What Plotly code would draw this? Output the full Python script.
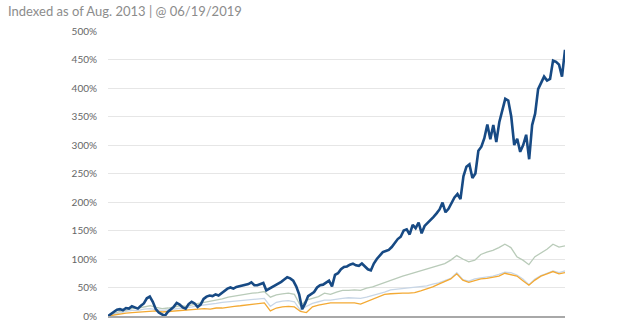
import pandas as pd
import plotly.graph_objects as go

TITLE = "Indexed as of Aug. 2013 | @ 06/19/2019"
START, END = "2013-08-01", "2019-06-19"

# Main series (dark blue), bi-weekly readings, % change since Aug 2013
blue_vals = [
    0, 4, 8, 11, 12, 10, 14, 13, 17, 15,
    13, 18, 22, 31, 34, 25, 12, 6, 3, 0,
    7, 11, 16, 23, 20, 15, 13, 21, 25, 22,
    16, 20, 30, 34, 36, 35, 38, 36, 40, 45,
    48, 50, 48, 51, 52, 53, 55, 56, 59, 54,
    54, 56, 58, 45, 48, 51, 54, 56, 60, 64,
    68, 66, 62, 52, 38, 12, 22, 35, 38, 42,
    50, 54, 55, 58, 62, 52, 72, 75, 82, 86,
    87, 90, 92, 89, 88, 92, 87, 82, 80, 92,
    100, 106, 112, 114, 116, 121, 128, 135, 139, 150,
    152, 143, 160, 154, 164, 145, 158, 163, 168, 174,
    180, 187, 199, 182, 188, 198, 208, 214, 205, 245,
    262, 266, 242, 250, 290, 297, 312, 336, 310, 335,
    305, 340, 363, 381, 378, 350, 300, 311, 288, 300,
    318, 275, 335, 355, 398, 410, 420, 413, 416, 448,
    446, 441, 420, 467,
]

# Comparison series, 4-weekly readings
green_vals = [
    0, 4, 8, 10, 13, 14, 16, 18, 15, 13,
    14, 16, 18, 17, 20, 22, 24, 26, 27, 30,
    33, 35, 37, 38, 40, 41, 43, 33, 37, 39,
    40, 38, 18, 28, 31, 34, 40, 38, 42, 45,
    45, 46, 45, 49, 51, 55, 59, 63, 67, 70,
    73, 76, 79, 82, 86, 89, 92, 98, 106, 100,
    95, 98, 108, 112, 115, 120, 126, 120, 104, 98,
    90, 104, 110, 117, 126, 121, 123,
]
lightblue_vals = [
    0, 3, 6, 8, 10, 10, 12, 13, 11, 10,
    11, 12, 14, 14, 16, 18, 19, 20, 22, 24,
    25, 26, 27, 28, 30, 30, 31, 17, 24, 26,
    27, 25, 10, 17, 22, 25, 28, 28, 30, 31,
    32, 32, 31, 33, 36, 38, 42, 46, 47, 48,
    49, 50, 51, 53, 56, 58, 62, 66, 76, 64,
    61, 65, 67, 68, 70, 73, 77, 76, 72, 65,
    55, 65, 71, 75, 79, 76, 79,
]
orange_vals = [
    0, 2, 3, 5, 6, 7, 8, 8, 9, 7,
    8, 9, 10, 11, 12, 13, 13, 12, 14, 14,
    16, 17, 18, 19, 21, 22, 23, 9, 14, 16,
    17, 16, 8, 6, 16, 19, 21, 23, 23, 23,
    23, 23, 21, 25, 30, 34, 38, 39, 40, 40,
    40, 41, 44, 47, 51, 56, 60, 65, 74, 63,
    59, 62, 65, 66, 68, 70, 75, 73, 70, 62,
    54, 63, 70, 74, 78, 74, 76,
]

y_ticks = [0, 50, 100, 150, 200, 250, 300, 350, 400, 450, 500]
y_ticktext = [f"{v}%" for v in y_ticks]

blue_dates = pd.date_range(START, END, periods=len(blue_vals))
other_dates = pd.date_range(START, END, periods=len(green_vals))

fig = go.Figure()
fig.add_trace(go.Scatter(x=other_dates, y=green_vals, mode="lines",
                         line=dict(color="#b9cbb9", width=1.3), showlegend=False))
fig.add_trace(go.Scatter(x=other_dates, y=lightblue_vals, mode="lines",
                         line=dict(color="#c8d6e6", width=1.3), showlegend=False))
fig.add_trace(go.Scatter(x=other_dates, y=orange_vals, mode="lines",
                         line=dict(color="#f3a933", width=1.3), showlegend=False))
fig.add_trace(go.Scatter(x=blue_dates, y=blue_vals, mode="lines",
                         line=dict(color="#174a84", width=2.6), showlegend=False))

fig.update_layout(
    width=640, height=334,
    margin=dict(l=108, r=75, t=31, b=14),
    paper_bgcolor="white", plot_bgcolor="white",
    font=dict(family="Lato, sans-serif", color="#666666"),
    title=dict(text=TITLE, x=8 / 640, xref="container", xanchor="left",
               y=1 - 11 / 334, yref="container", yanchor="middle",
               font=dict(size=13, color="#8c8c8c", family="Lato, sans-serif")),
    xaxis=dict(range=[blue_dates[0], blue_dates[-1]], showticklabels=False,
               showgrid=False, zeroline=False, showline=True,
               linecolor="#a8a8a8", linewidth=1.5, ticks=""),
    yaxis=dict(range=[0, 500], tickvals=y_ticks, ticktext=y_ticktext,
               showgrid=True, gridcolor="#e6e6e6", gridwidth=1.3,
               zeroline=False, showline=False, ticks="outside", ticklen=8,
               tickcolor="rgba(0,0,0,0)", tickfont=dict(size=10, color="#666666")),
)

fig.write_html("out.html")
